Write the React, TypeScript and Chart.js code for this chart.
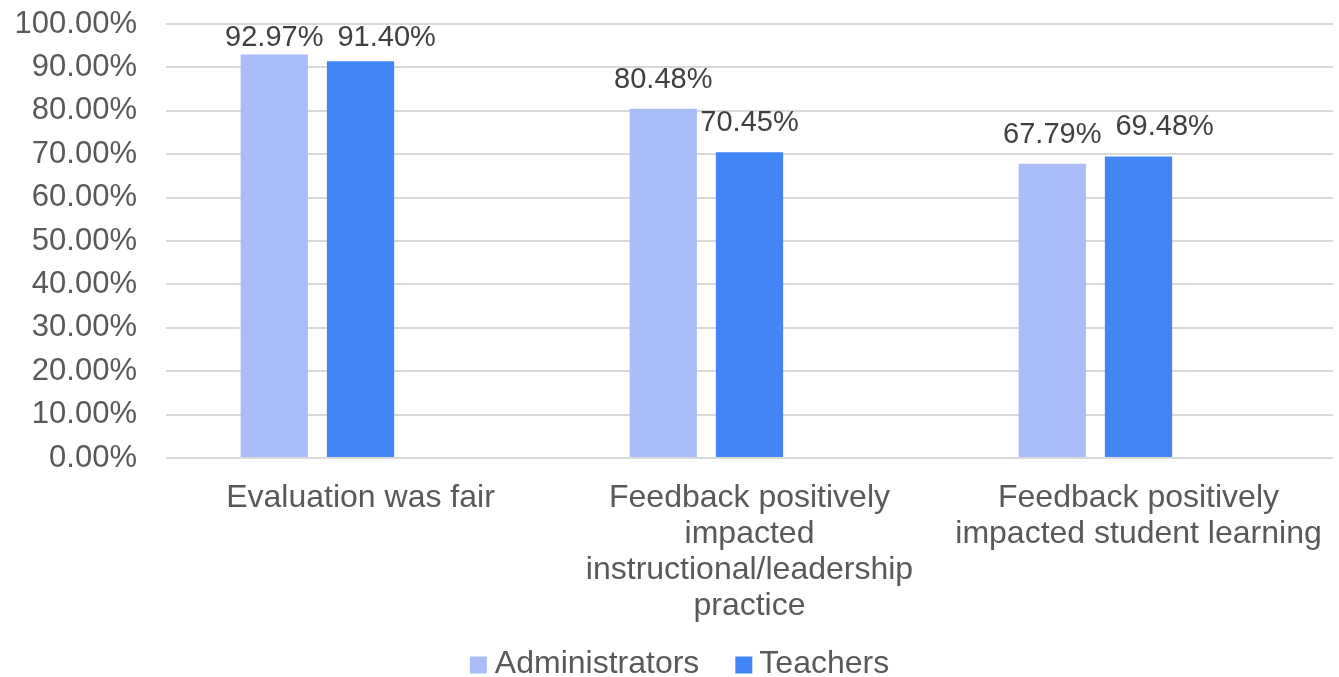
import React, { useEffect, useRef } from "react";
import { Chart, registerables } from "chart.js";

Chart.register(...registerables);

const categories: string[][] = [
  ["Evaluation was fair"],
  ["Feedback positively", "impacted", "instructional/leadership", "practice"],
  ["Feedback positively", "impacted student learning"],
];
const administrators: number[] = [0.9297, 0.8048, 0.6779];
const teachers: number[] = [0.914, 0.7045, 0.6948];
const seriesNames: string[] = ["Administrators", "Teachers"];
const seriesColors: string[] = ["#AABDF8", "#4285F4"];

const FONT = "'Liberation Sans', Arial, sans-serif";

const labelPlugin = {
  id: "barLabels",
  afterDatasetsDraw(chart: any) {
    const ctx = chart.ctx;
    ctx.save();
    ctx.font = `29px ${FONT}`;
    ctx.fillStyle = "#404040";
    ctx.textAlign = "left";
    ctx.textBaseline = "middle";
    const n = chart.data.labels.length;
    for (let i = 0; i < n; i++) {
      let prev: { right: number; y: number } | null = null;
      [0, 1].forEach((di) => {
        const bar = chart.getDatasetMeta(di).data[i];
        const v = chart.data.datasets[di].data[i] as number;
        const text = (v * 100).toFixed(2) + "%";
        const w = ctx.measureText(text).width;
        const y = Math.max(bar.y - 29, chart.chartArea.top + 14);
        let left = bar.x - w / 2;
        if (prev && Math.abs(prev.y - y) < 30 && left < prev.right + 14) {
          left = prev.right + 14;
        }
        ctx.fillText(text, left, y);
        prev = { right: left + w, y };
      });
    }
    ctx.restore();
  },
};

const legendPlugin = {
  id: "customLegend",
  afterDraw(chart: any) {
    const ctx = chart.ctx;
    ctx.save();
    ctx.font = `32px ${FONT}`;
    ctx.textBaseline = "middle";
    ctx.textAlign = "left";
    const box = 17;
    const widths = seriesNames.map((s) => ctx.measureText(s).width);
    const total = box + 8 + widths[0] + 36 + box + 7 + widths[1];
    let x = chart.width / 2 + 10 - total / 2;
    const y = chart.height - 13;
    seriesNames.forEach((name, i) => {
      ctx.fillStyle = seriesColors[i];
      ctx.fillRect(x, y - box / 2 + 1, box, box);
      x += box + (i === 0 ? 8 : 7);
      ctx.fillStyle = "#595959";
      ctx.fillText(name, x, y);
      x += widths[i] + 36;
    });
    ctx.restore();
  },
};

export default function App() {
  const ref = useRef<HTMLCanvasElement>(null);
  useEffect(() => {
    document.body.style.margin = "0";
    const chart = new Chart(ref.current!, {
      type: "bar",
      data: {
        labels: categories,
        datasets: [
          {
            label: seriesNames[0],
            data: administrators,
            backgroundColor: seriesColors[0],
            categoryPercentage: 0.665,
            barPercentage: 0.78,
          },
          {
            label: seriesNames[1],
            data: teachers,
            backgroundColor: seriesColors[1],
            categoryPercentage: 0.665,
            barPercentage: 0.78,
          },
          {
            label: "",
            data: [null, null, null],
            backgroundColor: "transparent",
            categoryPercentage: 0.665,
            barPercentage: 0.78,
          },
        ],
      },
      options: {
        animation: false,
        responsive: false,
        layout: { padding: { top: 24, right: 6, left: 0, bottom: 0 } },
        plugins: {
          tooltip: { enabled: false },
          legend: { display: false },
        },
        scales: {
          x: {
            afterFit: (s: any) => {
              s.height = 219;
              s.paddingLeft = 0;
              s.paddingRight = 0;
            },
            grid: { display: false, drawTicks: false },
            border: { display: false },
            ticks: {
              font: { family: FONT, size: 32, lineHeight: "36px" } as any,
              color: "#595959",
              padding: 22,
              maxRotation: 0,
              autoSkip: false,
            },
          },
          y: {
            min: 0,
            max: 1,
            afterFit: (s: any) => {
              s.width = 166;
              s.paddingTop = 0;
              s.paddingBottom = 0;
            },
            grid: { color: "#D9D9D9", lineWidth: 2, drawTicks: false },
            border: { display: false },
            ticks: {
              stepSize: 0.1,
              font: { family: FONT, size: 31 },
              color: "#595959",
              padding: 29,
              callback: (v: any) => (Number(v) * 100).toFixed(2) + "%",
            },
          },
        },
      },
      plugins: [labelPlugin, legendPlugin],
    });
    return () => chart.destroy();
  }, []);
  return <canvas ref={ref} width={1339} height={677} style={{ display: "block" }} />;
}
